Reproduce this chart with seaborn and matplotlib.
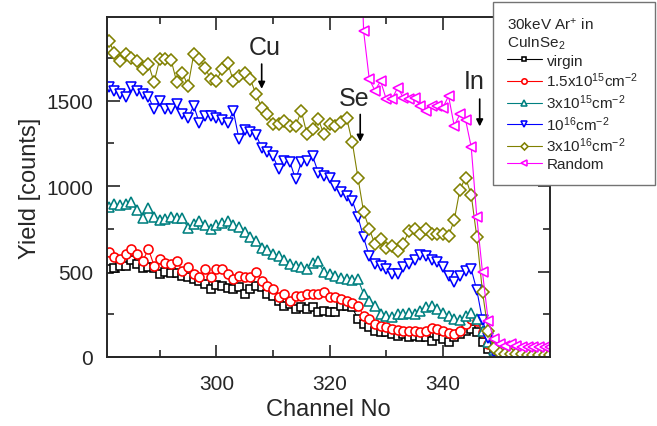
import pandas as pd
import matplotlib.pyplot as plt
import seaborn as sns
from matplotlib.ticker import MultipleLocator

# RBS spectra, channels 281-359
channel = list(range(281, 360))

virgin = [515, 520, 530, 535, 565, 545, 520, 525, 520, 485,
          500, 490, 490, 475, 466, 456, 446, 430, 397, 420,
          415, 405, 397, 407, 368, 397, 417, 407, 368, 358,
          329, 300, 310, 280, 290, 280, 290, 261, 271, 261,
          261, 300, 300, 290, 222, 193, 173, 154, 144, 144,
          134, 124, 134, 115, 124, 115, 115, 95, 124, 105,
          90, 120, 134, 155, 165, 145, 85, 45, 15, 5,
          3, 2, 2, 1, 1, 1, 1, 1, 1]

dose_15e14 = [612, 583, 573, 602, 632, 602, 563, 632, 534, 573,
              553, 545, 563, 505, 524, 485, 466, 514, 466, 514,
              514, 485, 456, 475, 466, 466, 495, 446, 417, 397,
              349, 368, 329, 358, 358, 368, 368, 368, 378, 349,
              349, 339, 329, 319, 300, 241, 222, 195, 180, 173,
              165, 160, 155, 155, 150, 145, 150, 170, 165, 150,
              140, 135, 150, 195, 222, 210, 145, 75, 25, 8,
              5, 4, 3, 3, 2, 2, 2, 2, 2]

dose_3e15 = [880, 895, 890, 895, 905, 860, 815, 870, 820, 800,
             810, 820, 815, 815, 755, 780, 795, 775, 750, 770,
             785, 795, 775, 760, 730, 700, 680, 640, 625, 605,
             590, 565, 545, 535, 525, 515, 550, 560, 495, 485,
             475, 465, 455, 450, 455, 370, 330, 300, 250, 240,
             235, 250, 250, 260, 250, 270, 290, 300, 280, 260,
             240, 225, 215, 240, 260, 220, 150, 90, 40, 15,
             5, 4, 3, 3, 2, 2, 2, 2, 2]

dose_1e16 = [1580, 1560, 1540, 1520, 1580, 1560, 1540, 1525, 1450, 1500,
             1450, 1450, 1480, 1420, 1400, 1470, 1370, 1410, 1410, 1400,
             1390, 1370, 1440, 1275, 1330, 1320, 1300, 1225, 1200, 1175,
             1100, 1150, 1140, 1040, 1140, 1150, 1175, 1080, 1060, 1050,
             1000, 965, 940, 915, 820, 700, 590, 545, 530, 515,
             485, 485, 524, 545, 570, 600, 590, 570, 555, 525,
             475, 440, 475, 505, 515, 390, 215, 110, 30, 8,
             4, 3, 3, 2, 2, 2, 2, 2, 2]

dose_3e16 = [1850, 1782, 1733, 1772, 1753, 1733, 1688, 1714, 1610, 1743,
             1743, 1739, 1610, 1665, 1587, 1772, 1743, 1694, 1626, 1616,
             1685, 1723, 1616, 1645, 1665, 1626, 1538, 1460, 1421, 1363,
             1363, 1382, 1353, 1353, 1441, 1304, 1334, 1392, 1304, 1363,
             1355, 1375, 1400, 1257, 1050, 850, 750, 660, 690, 640,
             650, 620, 660, 740, 750, 720, 750, 720, 720, 720,
             710, 800, 980, 1050, 950, 700, 380, 150, 55, 25,
             18, 15, 15, 15, 12, 12, 12, 12, 12]

random_channel = list(range(323, 360))
random_yield = [3000, 3000, 2900, 1909, 1626, 1560, 1616, 1509, 1509, 1577,
                1519, 1509, 1519, 1470, 1441, 1470, 1470, 1460, 1528, 1353,
                1421, 1390, 1230, 817, 495, 212, 105, 76, 66, 76,
                66, 60, 56, 56, 60, 56, 60]

series = [
    ('virgin', channel, virgin, 'black', 's', 5.5),
    ('1.5x10$^{15}$cm$^{-2}$', channel, dose_15e14, 'red', 'o', 6.5),
    ('3x10$^{15}$cm$^{-2}$', channel, dose_3e15, '#008080', '^', 7),
    ('10$^{16}$cm$^{-2}$', channel, dose_1e16, 'blue', 'v', 7),
    ('3x10$^{16}$cm$^{-2}$', channel, dose_3e16, '#808000', 'D', 6),
    ('Random', random_channel, random_yield, 'magenta', '<', 7),
]

sns.set_style('ticks')
plt.rcParams['font.family'] = ['Liberation Sans', 'DejaVu Sans']
plt.rcParams['mathtext.fontset'] = 'custom'
plt.rcParams['mathtext.rm'] = 'Liberation Sans'
plt.rcParams['mathtext.it'] = 'Liberation Sans:italic'

fig = plt.figure(figsize=(6.57, 4.27), dpi=100)
ax = fig.add_axes([0.163, 0.1616, 0.674, 0.796])

for label, x, y, color, marker, size in series:
    df = pd.DataFrame({'Channel': x, 'Yield': y})
    sns.lineplot(data=df, x='Channel', y='Yield', ax=ax, color=color,
                 marker=marker, ms=size, mfc='white', mec=color, mew=1.15,
                 lw=0.8, label=label)

ax.set_xlim(280.7, 358.9)
ax.set_ylim(0, 1990)
ax.xaxis.set_major_locator(MultipleLocator(20))
ax.xaxis.set_minor_locator(MultipleLocator(10))
ax.yaxis.set_major_locator(MultipleLocator(500))
ax.yaxis.set_minor_locator(MultipleLocator(250))
ax.tick_params(which='both', direction='in', top=True, right=True, width=1.2)
ax.tick_params(which='major', length=9, labelsize=15)
ax.tick_params(axis='x', which='major', pad=12)
ax.tick_params(axis='y', which='major', pad=10)
ax.tick_params(which='minor', length=5)
for s in ax.spines.values():
    s.set_linewidth(1.4)

ax.set_xlabel('Channel No', fontsize=17, labelpad=4)
ax.set_ylabel('Yield [counts]', fontsize=17, labelpad=4)

# element surface edges
arrows = [('Cu', 308.6, 1815, 308, 1715, 1570),
          ('Se', 324.4, 1515, 325.4, 1420, 1260),
          ('In', 345.6, 1615, 346.5, 1510, 1350)]
for name, tx, ty, ax_x, y0, y1 in arrows:
    ax.text(tx, ty, name, fontsize=18, ha='center', va='center')
    ax.annotate('', xy=(ax_x, y1), xytext=(ax_x, y0),
                arrowprops=dict(arrowstyle='-|>', color='black', lw=1.2,
                                mutation_scale=10, shrinkA=0, shrinkB=0))

leg = ax.legend(loc='upper left',
                bbox_to_anchor=(493 / 657, 1 - 3 / 427, 162 / 657, 0),
                bbox_transform=fig.transFigure, mode='expand', fancybox=False,
                edgecolor='0.45', framealpha=1, fontsize=11,
                title='30keV Ar$^{+}$ in\nCuInSe$_2$', title_fontsize=11,
                alignment='left', borderaxespad=0, handlelength=2.3,
                handletextpad=0.3, labelspacing=0.2, markerscale=0.6,
                borderpad=0.9)
leg.set_zorder(10)
leg.get_frame().set_linewidth(1.0)

plt.savefig('out.png', dpi=100)
